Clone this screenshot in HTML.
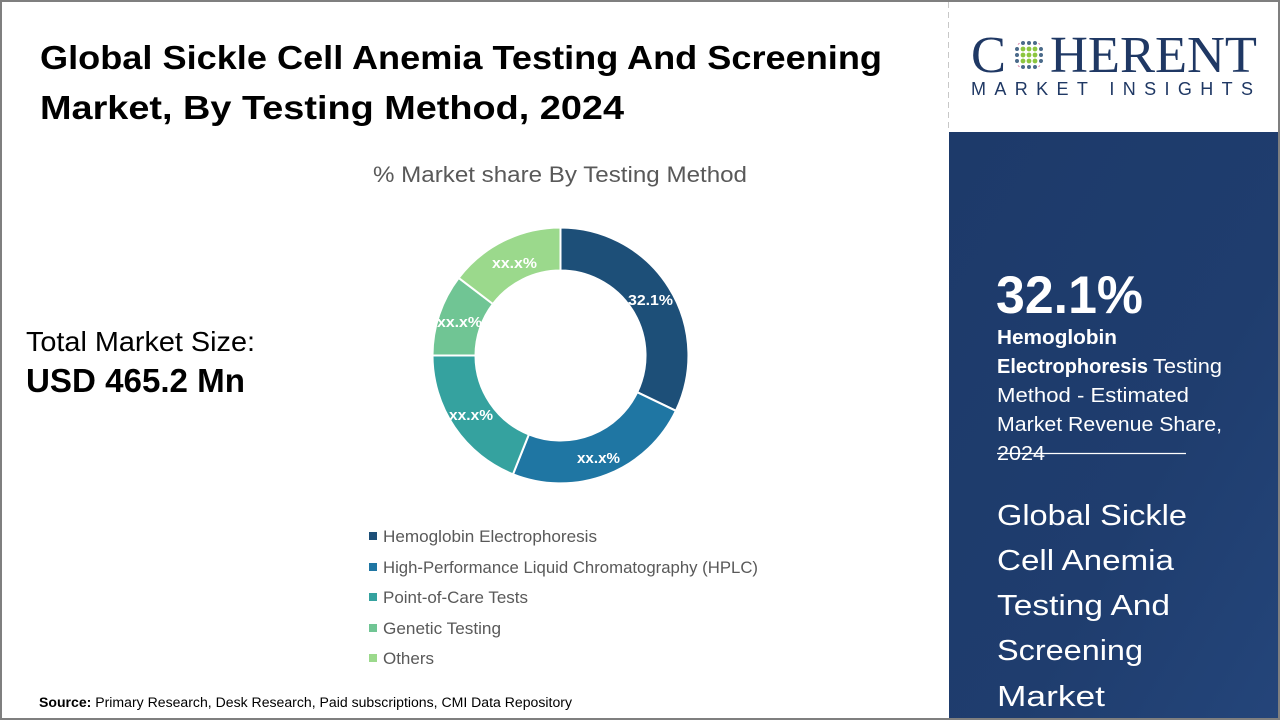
<!DOCTYPE html>
<html><head><meta charset="utf-8"><style>
html,body{margin:0;padding:0;background:#fff;}
svg{display:block;}
</style></head><body>
<svg width="1280" height="720" viewBox="0 0 1280 720" xmlns="http://www.w3.org/2000/svg">
<defs>
<linearGradient id="pg" x1="0" y1="0" x2="1" y2="1">
<stop offset="0" stop-color="#1d3a6a"/>
<stop offset="0.6" stop-color="#1f3d6e"/>
<stop offset="1" stop-color="#24457a"/>
</linearGradient>
<clipPath id="gc"><circle cx="1029" cy="55" r="15.5"/></clipPath>
</defs>
<rect x="0" y="0" width="1280" height="720" fill="#fff"/>
<!-- right panel -->
<rect x="949" y="132" width="331" height="588" fill="url(#pg)"/>
<line x1="948.5" y1="2" x2="948.5" y2="132" stroke="#c8c8c8" stroke-width="1" stroke-dasharray="6,4"/>
<!-- border -->
<rect x="1" y="1" width="1278" height="718" fill="none" stroke="#7f7f7f" stroke-width="2"/>

<g font-family="Liberation Sans, sans-serif">
<!-- Title -->
<text x="40" y="69" font-size="33" font-weight="bold" fill="#000" textLength="842" lengthAdjust="spacingAndGlyphs">Global Sickle Cell Anemia Testing And Screening</text>
<text x="40" y="119" font-size="33" font-weight="bold" fill="#000" textLength="584" lengthAdjust="spacingAndGlyphs">Market, By Testing Method, 2024</text>

<!-- subtitle -->
<text x="373" y="182" font-size="22" fill="#595959" textLength="374" lengthAdjust="spacingAndGlyphs">% Market share By Testing Method</text>

<!-- total -->
<text x="26" y="351" font-size="28" fill="#000" textLength="229" lengthAdjust="spacingAndGlyphs">Total Market Size:</text>
<text x="26" y="392" font-size="33" font-weight="bold" fill="#000" textLength="219" lengthAdjust="spacingAndGlyphs">USD 465.2 Mn</text>

<!-- donut -->
<g stroke="#fff" stroke-width="2" stroke-linejoin="round">
<path d="M560.5,227.5 A128,128 0 0 1 675.9,410.8 L637.2,392.2 A85,85 0 0 0 560.5,270.5 Z" fill="#1d4f78"/>
<path d="M675.9,410.8 A128,128 0 0 1 513.0,474.3 L528.9,434.4 A85,85 0 0 0 637.2,392.2 Z" fill="#1f76a3"/>
<path d="M513.0,474.3 A128,128 0 0 1 432.5,355.5 L475.5,355.5 A85,85 0 0 0 528.9,434.4 Z" fill="#35a29f"/>
<path d="M432.5,355.5 A128,128 0 0 1 458.7,277.9 L492.9,304.0 A85,85 0 0 0 475.5,355.5 Z" fill="#70c594"/>
<path d="M458.7,277.9 A128,128 0 0 1 560.5,227.5 L560.5,270.5 A85,85 0 0 0 492.9,304.0 Z" fill="#9bd98c"/>
</g>
<g font-size="15" font-weight="bold" fill="#fff">
<text x="628" y="305" textLength="45" lengthAdjust="spacingAndGlyphs">32.1%</text>
<text x="492" y="268" textLength="45" lengthAdjust="spacingAndGlyphs">xx.x%</text>
<text x="437" y="327" textLength="45" lengthAdjust="spacingAndGlyphs">xx.x%</text>
<text x="449" y="420" textLength="44" lengthAdjust="spacingAndGlyphs">xx.x%</text>
<text x="577" y="463" textLength="43" lengthAdjust="spacingAndGlyphs">xx.x%</text>
</g>

<!-- legend -->
<rect x="369" y="532" width="8" height="8" fill="#1d4f78"/>
<rect x="369" y="563" width="8" height="8" fill="#1f76a3"/>
<rect x="369" y="593" width="8" height="8" fill="#35a29f"/>
<rect x="369" y="624" width="8" height="8" fill="#70c594"/>
<rect x="369" y="654" width="8" height="8" fill="#9bd98c"/>
<g font-size="17" fill="#595959">
<text x="383" y="542" textLength="214" lengthAdjust="spacingAndGlyphs">Hemoglobin Electrophoresis</text>
<text x="383" y="573" textLength="375" lengthAdjust="spacingAndGlyphs">High-Performance Liquid Chromatography (HPLC)</text>
<text x="383" y="603" textLength="145" lengthAdjust="spacingAndGlyphs">Point-of-Care Tests</text>
<text x="383" y="634" textLength="118" lengthAdjust="spacingAndGlyphs">Genetic Testing</text>
<text x="383" y="664" textLength="51" lengthAdjust="spacingAndGlyphs">Others</text>
</g>

<!-- source -->
<text x="39" y="707" font-size="13.5" fill="#000" textLength="533" lengthAdjust="spacingAndGlyphs"><tspan font-weight="bold">Source:</tspan> Primary Research, Desk Research, Paid subscriptions, CMI Data Repository</text>

<!-- logo -->
<text x="971" y="72" font-family="Liberation Serif, serif" font-size="52" fill="#1f3864" textLength="35" lengthAdjust="spacingAndGlyphs">C</text>
<text x="1050" y="72" font-family="Liberation Serif, serif" font-size="52" fill="#1f3864" textLength="207" lengthAdjust="spacingAndGlyphs">HERENT</text>
<g clip-path="url(#gc)">
<g fill="#4a6a8a">
<circle cx="1017" cy="49" r="2"/><circle cx="1017" cy="55" r="2"/><circle cx="1017" cy="61" r="2"/>
<circle cx="1041" cy="49" r="2"/><circle cx="1041" cy="55" r="2"/><circle cx="1041" cy="61" r="2"/>
<circle cx="1023" cy="43" r="2"/><circle cx="1029" cy="43" r="2"/><circle cx="1035" cy="43" r="2"/>
<circle cx="1023" cy="67" r="2"/><circle cx="1029" cy="67" r="2"/><circle cx="1035" cy="67" r="2"/>
</g>
<g fill="#8cc63f">
<circle cx="1023" cy="49" r="2.4"/><circle cx="1029" cy="49" r="2.4"/><circle cx="1035" cy="49" r="2.4"/>
<circle cx="1023" cy="55" r="2.4"/><circle cx="1029" cy="55" r="2.4"/><circle cx="1035" cy="55" r="2.4"/>
<circle cx="1023" cy="61" r="2.4"/><circle cx="1029" cy="61" r="2.4"/><circle cx="1035" cy="61" r="2.4"/>
</g>
<g fill="#c2336b">
<circle cx="1024" cy="38.5" r="1.5"/><circle cx="1029" cy="38" r="1.5"/><circle cx="1034" cy="38.5" r="1.5"/>
<circle cx="1024" cy="71.5" r="1.5"/><circle cx="1029" cy="72" r="1.5"/><circle cx="1034" cy="71.5" r="1.5"/>
<circle cx="1018" cy="43" r="1.5"/><circle cx="1040" cy="43" r="1.5"/>
<circle cx="1018" cy="67" r="1.5"/><circle cx="1040" cy="67" r="1.5"/>
</g>
</g>
<text x="971" y="95" font-size="18" fill="#1f3864" textLength="282" lengthAdjust="spacing">MARKET INSIGHTS</text>

<!-- right panel text -->
<g fill="#fff">
<text x="996" y="313" font-size="53" font-weight="bold" textLength="147" lengthAdjust="spacingAndGlyphs">32.1%</text>
<text x="997" y="344" font-size="20" font-weight="bold" textLength="120" lengthAdjust="spacingAndGlyphs">Hemoglobin</text>
<text x="997" y="373" font-size="20" font-weight="bold" textLength="151" lengthAdjust="spacingAndGlyphs">Electrophoresis</text>
<text x="1153" y="373" font-size="20" textLength="69" lengthAdjust="spacingAndGlyphs">Testing</text>
<text x="997" y="402" font-size="20" textLength="192" lengthAdjust="spacingAndGlyphs">Method - Estimated</text>
<text x="997" y="431" font-size="20" textLength="225" lengthAdjust="spacingAndGlyphs">Market Revenue Share,</text>
<text x="997" y="460" font-size="20" textLength="48" lengthAdjust="spacingAndGlyphs">2024</text>
<line x1="997" y1="453.5" x2="1186" y2="453.5" stroke="#fff" stroke-width="1.2"/>
<g font-size="29">
<text x="997" y="525" textLength="190" lengthAdjust="spacingAndGlyphs">Global Sickle</text>
<text x="997" y="570" textLength="177" lengthAdjust="spacingAndGlyphs">Cell Anemia</text>
<text x="997" y="615" textLength="173" lengthAdjust="spacingAndGlyphs">Testing And</text>
<text x="997" y="660" textLength="146" lengthAdjust="spacingAndGlyphs">Screening</text>
<text x="997" y="706" textLength="108" lengthAdjust="spacingAndGlyphs">Market</text>
</g>
</g>
</g>
</svg>
</body></html>
